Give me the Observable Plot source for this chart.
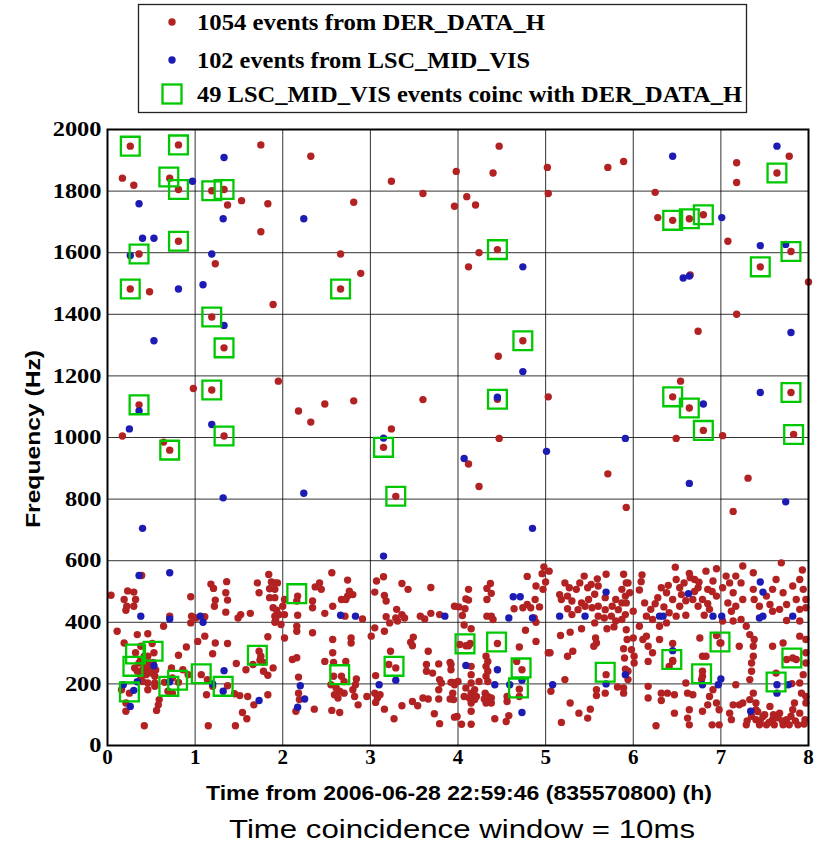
<!DOCTYPE html>
<html><head><meta charset="utf-8">
<script src="https://cdn.jsdelivr.net/npm/d3@7"></script>
<script src="https://cdn.jsdelivr.net/npm/@observablehq/plot@0.6"></script>
<style>body{margin:0;background:#fff}#chart{width:823px;height:844px}</style>
</head><body><div id="chart"></div>
<script>
// ---- tick labels ----
const xTicks = [0,1,2,3,4,5,6,7,8];
const yTicks = [0,200,400,600,800,1000,1200,1400,1600,1800,2000];

// ---- legend / labels ----
const legendLabels = ["1054 events from DER_DATA_H","102 events from LSC_MID_VIS","49 LSC_MID_VIS events coinc with DER_DATA_H"];
const xLabel = "Time from 2006-06-28 22:59:46 (835570800) (h)";
const yLabel = "Frequency (Hz)";
const caption = "Time coincidence window = 10ms";

// ---- DER_DATA_H events [time h, freq Hz] ----
const derHigh = [[0.26,1946],[0.81,1950],[1.75,1950],[2.32,1913],[0.17,1842],[0.30,1819],[0.71,1842],[0.81,1805],[1.19,1801],[1.33,1805],[1.37,1755],[1.53,1769],[1.83,1759],[2.81,1764],[3.24,1832],[3.60,1792],[3.98,1864],[3.96,1751],[1.75,1668],[0.81,1637],[0.36,1596],[2.66,1596],[1.23,1564],[2.89,1533],[0.26,1482],[0.48,1473],[2.66,1482],[1.89,1432],[1.19,1391],[1.33,1291],[0.98,1159],[1.19,1154],[1.95,1183],[0.36,1106],[2.18,1086],[2.48,1109],[2.81,1119],[2.32,1050],[3.60,1123],[3.24,1028],[0.17,1005],[1.33,1005],[0.64,985],[0.71,959],[3.15,968],[3.29,809],
[4.47,1946],[4.40,1859],[5.02,1877],[5.71,1877],[5.89,1896],[7.18,1892],[7.18,1828],[7.64,1859],[7.78,1913],[4.10,1782],[4.20,1755],[5.03,1792],[6.25,1796],[6.28,1714],[6.45,1705],[6.64,1710],[6.80,1723],[7.08,1637],[7.80,1604],[7.45,1554],[4.45,1610],[4.24,1600],[4.12,1554],[6.65,1528],[8.0,1505],[7.18,1400],[6.74,1345],[4.74,1314],[4.46,1264],[6.54,1183],[6.45,1132],[6.64,1096],[6.80,1023],[7.80,1146],[7.83,1010],[5.03,1132],[4.45,1124],[4.47,997],[6.49,997],[7.02,1006],
[4.12,914],[4.24,841],[5.71,882],[7.31,868],[5.92,773],[7.14,760]];

const derLowA = [[0.39,552],[0.04,488],[0.23,502],[0.30,498],[0.19,474],[0.32,474],[0.22,452],[0.30,452],[0.21,439],[0.95,483],[1.18,524],[1.21,510],[1.36,532],[1.35,496],[1.37,472],[1.23,472],[1.22,452],[1.35,433],[1.49,414],[1.52,425],[1.63,429],[1.71,528],[1.84,555],[1.87,531],[1.91,528],[1.85,509],[1.91,507],[1.85,480],[1.91,480],[1.73,496],[1.89,447],[1.93,439],[1.91,420],[1.91,400],[1.01,414],[1.11,418],[0.95,398],[0.71,420],[0.64,387],[0.96,420],
[0.11,371],[0.19,333],[0.34,360],[0.46,363],[0.51,331],[0.53,301],[0.38,322],[0.32,301],[0.42,290],[0.38,279],[0.46,290],[0.31,252],[0.34,241],[0.42,257],[0.46,246],[0.50,235],[0.48,268],[0.44,230],[0.38,225],[0.54,225],[0.40,208],[0.46,203],[0.54,203],[0.65,205],[0.73,252],[0.74,219],[0.81,293],[0.90,320],[0.81,205],[0.86,246],[0.92,230],[1.03,338],[1.11,355],[1.20,298],[1.23,333],[1.37,331],[1.07,230],[1.14,214],[1.20,192],[1.47,266],[1.58,246],[1.73,306],[1.75,290],[1.78,270],[1.74,277],[1.83,353],[1.89,252],[1.83,228],[1.66,263],[1.78,241],
[0.45,250],[0.47,240],[0.49,255],[0.43,262],[0.40,245],[0.36,268],[0.52,270],[0.55,245],
[0.25,170],[0.16,181],[0.21,138],[0.21,111],[0.46,181],[0.54,192],[0.59,149],[0.58,132],[0.56,114],[0.42,64],[0.69,176],[0.74,170],[1.13,165],[1.15,64],[1.45,168],[1.51,162],[1.60,159],[1.83,165],[1.67,132],[1.54,107],[1.59,87],[1.46,64],[1.37,194]];

const derLowB = [[1.94,528],[2.56,561],[2.74,537],[2.42,528],[2.44,507],[2.37,515],[2.17,485],[2.16,469],[2.34,469],[2.34,447],[2.02,474],[2.00,452],[1.96,425],[2.02,425],[1.92,409],[1.98,393],[2.17,423],[2.48,429],[2.57,452],[2.67,474],[2.74,485],[2.80,490],[2.76,501],[2.72,474],[2.71,420],[2.91,411],[3.07,534],[3.15,548],[3.05,498],[3.16,487],[3.18,469],[3.36,526],[3.43,507],[3.69,513],[3.30,442],[3.36,425],[3.18,418],[3.29,414],[3.22,398],[3.31,404],[3.39,414],[3.57,420],[3.69,429],[3.62,411],[3.79,425],[3.96,452],[3.16,371],[3.05,382],[3.01,355],[2.02,349],[2.16,387],[2.16,371],[2.34,366],[2.57,344],[2.78,349],[2.78,333],[3.49,352],[3.46,335],[3.48,324],[3.66,306],[2.57,301],[2.58,270],[2.48,273],[2.72,273],[2.11,279],[2.16,285],[3.21,263],[3.23,306],[3.29,252],[3.64,263],[3.64,241],[3.78,265],[3.71,235],[3.91,270],[3.92,246],[3.79,214],[3.94,205],[2.18,222],[2.58,225],[2.67,225],[2.70,208],[2.84,216],[2.55,197],[2.61,187],[2.65,176],[2.59,165],[2.63,154],[2.70,170],[2.80,181],[2.83,197],[2.82,159],[2.86,132],[2.96,159],[3.06,227],[3.05,170],[3.08,154],[3.06,140],[3.11,165],[3.16,118],[3.27,87],[3.36,129],[3.48,143],[3.54,129],[3.60,154],[3.66,151],[3.78,181],[3.78,151],[3.81,203],[3.91,151],[3.73,103],[3.79,71],[3.96,92],[2.19,149],[2.15,111],[2.36,118],[2.56,114],[2.65,107],[2.18,170]];

const derLowC = [[4.98,580],[5.04,566],[4.96,558],[4.79,549],[4.89,518],[5.00,531],[4.97,507],[4.37,526],[4.33,510],[4.38,494],[4.12,507],[4.09,476],[4.12,472],[4.01,450],[4.08,444],[4.05,422],[4.33,420],[4.38,420],[4.40,409],[4.33,474],[4.64,444],[4.74,447],[4.79,458],[4.83,447],[4.88,474],[4.93,450],[4.87,414],[4.89,400],[4.77,374],[4.07,391],[4.15,379],[4.70,320],[4.89,338],[5.03,301],[5.05,301],[5.17,357],[5.28,368],[5.41,379],[5.25,290],[5.31,306],[5.57,349],[5.58,333],[5.55,322],[5.70,379],[5.78,385],[5.93,344],[5.89,314],[5.90,284],[5.91,248],[5.82,190],[5.89,187],[5.89,170],[5.22,214],[5.06,176],[5.28,138],[5.38,105],[5.48,89],[5.51,118],[5.18,75],[5.58,181],[5.58,162],[5.68,170],[5.69,230],[3.92,263],[3.92,205],[3.96,197],[4.00,208],[4.02,328],[4.09,324],[4.14,331],[4.15,257],[4.15,230],[4.15,203],[4.15,170],[4.15,138],[4.15,111],[4.19,181],[4.21,159],[4.19,149],[4.07,159],[4.13,154],[4.09,187],[4.24,208],[4.32,290],[4.34,273],[4.32,257],[4.34,241],[4.32,225],[4.34,208],[4.31,170],[4.30,151],[4.34,159],[4.38,154],[4.38,138],[4.32,138],[3.99,94],[4.04,69],[4.15,69],[4.42,87],[4.55,78],[4.58,97],[4.56,159],[4.56,143],[4.70,183],[4.70,159],[4.73,246],[4.67,273],[3.94,170],[3.95,149],[4.45,331],[4.12,324],
[5.22,528],[5.27,512],[5.25,485],[5.30,469],[5.35,507],[5.39,528],[5.44,550],[5.48,512],[5.52,523],[5.59,541],[5.60,518],[5.69,556],[5.89,556],[5.92,528],[5.87,507],[5.91,485],[5.87,463],[5.80,474],[5.68,480],[5.56,491],[5.49,474],[5.45,452],[5.53,447],[5.60,452],[5.68,441],[5.76,452],[5.83,441],[5.91,425],[5.87,409],[5.80,404],[5.37,441],[5.30,425],[5.25,444],[5.18,474],[5.16,490],[5.41,463],[5.60,420],[5.67,414],[5.75,420],[5.56,398]];

const derLowD = [[6.48,579],[6.64,559],[6.83,566],[6.95,574],[7.25,583],[7.69,593],[7.93,570],[6.10,554],[6.09,532],[6.07,505],[5.94,528],[5.96,496],[5.92,463],[6.00,436],[6.13,463],[6.20,442],[6.28,480],[6.32,512],[6.38,496],[6.49,539],[6.53,512],[6.45,474],[6.53,452],[6.58,528],[6.70,539],[6.74,512],[6.68,474],[6.74,452],[6.79,474],[6.85,507],[6.91,534],[6.95,485],[6.87,442],[6.81,423],[6.60,423],[6.49,420],[6.41,431],[6.38,398],[6.30,387],[6.22,409],[6.15,420],[7.06,550],[7.02,512],[7.10,528],[7.14,496],[7.08,463],[7.17,550],[7.23,528],[7.25,474],[7.17,452],[7.12,436],[7.02,404],[7.14,404],[7.37,561],[7.37,507],[7.38,474],[7.44,452],[7.52,485],[7.56,458],[7.63,539],[7.59,507],[7.71,496],[7.82,518],[7.90,539],[7.94,507],[7.97,474],[7.86,474],[7.75,458],[7.67,442],[7.59,436],[7.90,442],[7.97,447],[7.75,406],[7.90,404],[7.23,409],[7.29,387],
[6.55,490],[6.60,470],[6.70,500],[6.75,530],[6.85,460],[6.90,500],[6.65,545],[6.40,520],[6.25,460],[6.35,450],
[5.92,376],[6.00,349],[6.07,387],[6.11,344],[6.15,355],[5.98,311],[6.01,290],[6.01,268],[6.17,322],[6.17,273],[6.30,344],[6.22,301],[6.76,349],[6.79,290],[6.83,290],[6.79,241],[6.78,214],[6.95,357],[7.00,333],[7.21,322],[7.33,360],[7.38,344],[7.37,322],[7.37,290],[7.35,268],[7.35,241],[7.33,214],[7.59,322],[7.71,333],[7.75,279],[7.86,279],[7.97,268],[7.97,301],[7.90,355],[7.97,344],[7.94,230],[7.90,203],[7.81,201],[7.17,197],[6.60,203],[6.45,331],[6.45,276],[6.41,257],[5.94,241],[5.94,214],
[6.17,192],[6.17,154],[6.32,170],[6.32,146],[6.39,170],[6.47,165],[6.47,105],[6.62,170],[6.68,165],[6.64,116],[6.62,89],[6.64,67],[6.79,111],[6.85,132],[6.87,159],[6.91,181],[6.95,138],[6.98,116],[6.90,67],[6.98,67],[7.10,105],[7.14,132],[7.12,84],[7.21,132],[7.25,138],[7.29,67],[7.37,170],[7.33,149],[7.40,138],[7.40,116],[7.40,84],[7.44,67],[7.48,94],[7.52,67],[7.56,127],[7.59,84],[7.61,67],[7.67,105],[7.71,67],[7.75,84],[7.78,67],[7.82,116],[7.84,138],[7.88,67],[7.90,105],[7.96,84],[7.97,159],[7.97,138],[7.92,170],[6.26,64],[7.63,235],[7.82,284],[6.79,225],[6.99,333],[6.45,273],
[7.30,80],[7.35,95],[7.45,80],[7.50,100],[7.55,75],[7.65,90],[7.70,80],[7.80,95],[7.85,80],[7.95,70],[7.42,110],[7.60,100]];

// ---- LSC_MID_VIS events [time h, freq Hz] ----
const lscHigh = [[1.33,1909],[0.97,1832],[0.36,1759],[1.32,1710],[2.24,1710],[0.40,1647],[0.53,1647],[0.26,1591],[1.19,1596],[0.81,1482],[1.09,1496],[1.33,1364],[0.53,1314],[0.36,1086],[0.25,1028],[1.19,1042],[3.15,998],[1.32,804],[2.24,819],[0.40,705],[3.15,615],
[7.64,1946],[6.45,1913],[7.01,1714],[7.45,1623],[7.74,1627],[4.74,1554],[6.57,1518],[6.64,1524],[7.80,1341],[4.74,1214],[7.45,1146],[6.80,1109],[4.45,1131],[5.91,997],
[4.07,932],[5.01,955],[6.64,851],[7.74,791],[4.85,705]];
const lscLow = [[0.36,552],[0.71,561],[0.38,420],[0.71,411],[1.06,420],[1.09,400],[0.53,259],[0.18,197],[0.30,179],[0.26,127],[0.34,207],[0.71,207],[1.33,243],[1.20,200],[1.32,176],[1.73,146],
[2.66,423],[2.83,420],[3.85,420],[2.20,194],[2.25,151],[2.17,124],[3.10,197],[3.29,212],
[4.63,483],[4.71,483],[4.58,414],[4.85,414],[5.16,420],[5.45,420],[5.69,498],[4.09,260],[4.45,246],[4.42,197],[4.59,197],[4.73,212],[4.73,107],[5.08,197],[5.69,200],[5.91,230],
[6.63,493],[7.45,531],[7.48,498],[6.30,420],[6.34,420],[6.91,420],[7.01,420],[7.44,414],[7.48,420],[7.82,420],[6.45,308],[6.79,197],[6.97,197],[7.00,216],[7.64,197],[7.64,170],[7.77,197],[7.34,111]];

// ---- coincident LSC_MID_VIS events [time h, freq Hz] ----
const coinc = [[0.26,1946],[0.81,1950],[0.70,1846],[0.81,1805],[1.19,1801],[1.33,1805],[0.81,1637],[0.36,1596],[0.26,1482],[2.66,1482],[1.19,1391],[1.33,1291],[1.19,1154],[0.36,1106],[1.33,1005],[0.71,959],[3.15,968],[3.29,809],[7.64,1859],[6.45,1705],[6.64,1710],[6.80,1723],[7.80,1604],[7.45,1554],[4.45,1610],[4.74,1314],[6.45,1132],[6.64,1096],[6.80,1023],[7.80,1146],[7.83,1010],[4.45,1124],
[0.32,297],[0.52,306],[0.29,257],[0.25,174],[0.70,192],[0.80,212],[1.07,233],[1.32,192],[1.71,293],[2.16,493],[2.65,230],[3.27,257],[4.08,330],[4.44,336],[4.72,252],[4.69,187],[5.68,238],[6.99,336],[6.44,279],[6.78,233],[7.81,284],[7.63,206]];

const RED = "#b22222", BLUE = "#1c1cb4", GREEN = "#00c800";
const rows = a => a.map(([t,f]) => ({t, f}));
const der = rows([...derHigh, ...derLowA, ...derLowB, ...derLowC, ...derLowD]);
const lsc = rows([...lscHigh, ...lscLow]);
const co = rows(coinc);

const W = 823, H = 844;
const serif = "Liberation Serif";
const sans = "Liberation Sans";

const svg = Plot.plot({
  width: W, height: H,
  marginTop: 129, marginBottom: 99, marginLeft: 107, marginRight: 15,
  style: {background: "#fff", overflow: "visible"},
  x: {domain: [0, 8]},
  y: {domain: [0, 2000]},
  marks: [
    Plot.gridX(xTicks, {stroke: "#000", strokeOpacity: 0.8, strokeWidth: 1}),
    Plot.gridY(yTicks, {stroke: "#000", strokeOpacity: 0.8, strokeWidth: 1}),
    Plot.dot(der, {x: "t", y: "f", r: 3.7, fill: RED}),
    Plot.dot(lsc, {x: "t", y: "f", r: 3.7, fill: BLUE}),
    Plot.dot(co, {x: "t", y: "f", symbol: "square", r: 10.6, stroke: GREEN, strokeWidth: 2.3, fill: "none"}),
    Plot.frame({stroke: "#000", strokeWidth: 2}),
    Plot.axisX(xTicks, {tickSize: 0, tickPadding: 4, fontSize: 21, fontFamily: serif, fontWeight: "bold", label: null, tickFormat: d => String(d)}),
    Plot.axisY(yTicks, {tickSize: 0, tickPadding: 6, fontSize: 21, fontFamily: serif, fontWeight: "bold", label: null, tickFormat: d => String(d)})
  ]
});
document.getElementById("chart").appendChild(svg);

const s = d3.select(svg);
// tick labels: bold serif; widen y tick labels to the reference's proportions
s.selectAll("g").filter(function() {
  return /axis/.test(this.getAttribute("aria-label") || "");
}).attr("font-family", serif).attr("font-weight", "bold").attr("font-size", 21).attr("fill", "#000");
s.selectAll("text").filter(function() {
  const g = this.parentNode;
  return g && /y-axis/.test(g.getAttribute("aria-label") || "");
}).each(function() {
  d3.select(this).attr("textLength", this.textContent.length * 12.2).attr("lengthAdjust", "spacingAndGlyphs");
});

// axis labels and caption
s.append("text").text(yLabel)
  .attr("transform", "translate(40,439) rotate(-90)")
  .attr("text-anchor", "middle").attr("textLength", 178).attr("lengthAdjust", "spacingAndGlyphs")
  .attr("font-family", sans).attr("font-weight", "bold").attr("font-size", 20).attr("fill", "#000");
s.append("text").text(xLabel)
  .attr("x", 206).attr("y", 800).attr("text-anchor", "start")
  .attr("textLength", 506).attr("lengthAdjust", "spacingAndGlyphs")
  .attr("font-family", sans).attr("font-weight", "bold").attr("font-size", 20).attr("fill", "#000");
s.append("text").text(caption)
  .attr("x", 229).attr("y", 838).attr("text-anchor", "start")
  .attr("textLength", 466).attr("lengthAdjust", "spacingAndGlyphs")
  .attr("font-family", sans).attr("font-weight", "normal").attr("font-size", 25).attr("fill", "#000");

// legend
const lg = s.append("g").attr("font-family", serif).attr("font-weight", "bold").attr("font-size", 24);
lg.append("rect").attr("x", 138.5).attr("y", 4.5).attr("width", 608).attr("height", 108)
  .attr("fill", "#fff").attr("stroke", "#222").attr("stroke-width", 1.3);
const rowsY = [22, 60, 94];
lg.append("circle").attr("cx", 172).attr("cy", rowsY[0]).attr("r", 3.7).attr("fill", RED);
lg.append("circle").attr("cx", 172).attr("cy", rowsY[1]).attr("r", 3.7).attr("fill", BLUE);
lg.append("rect").attr("x", 162.5).attr("y", rowsY[2] - 9.5).attr("width", 19).attr("height", 19)
  .attr("fill", "none").attr("stroke", GREEN).attr("stroke-width", 2.3);
const lens = [348, 333, 545];
legendLabels.forEach((t, i) => {
  lg.append("text").text(t).attr("x", 197).attr("y", rowsY[i] + 8).attr("text-anchor", "start")
    .attr("textLength", lens[i]).attr("lengthAdjust", "spacingAndGlyphs").attr("fill", "#000");
});
</script></body></html>
